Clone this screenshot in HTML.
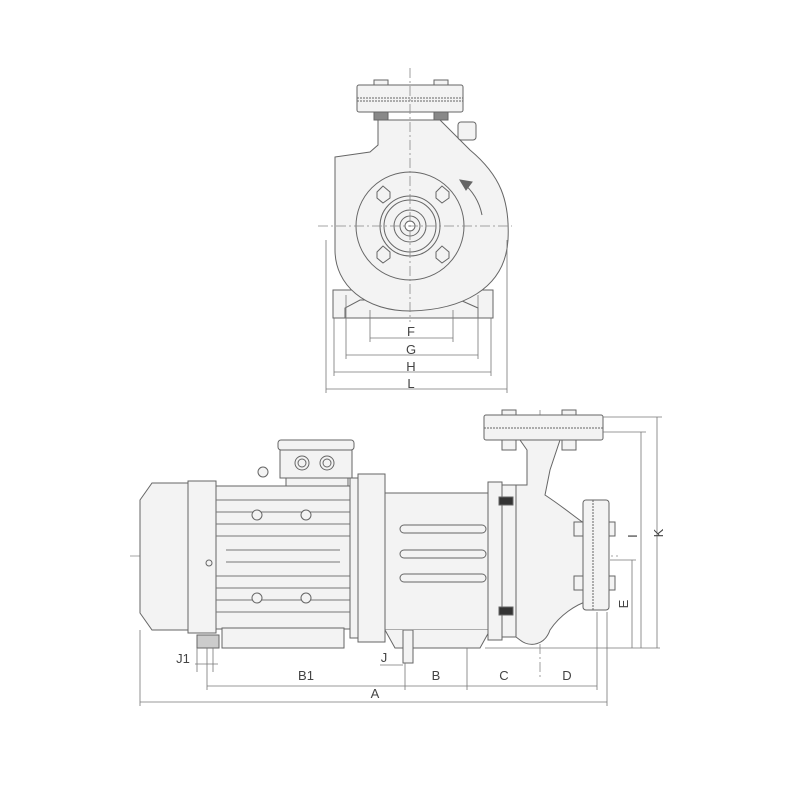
<!DOCTYPE html>
<html><head><meta charset="utf-8"><style>html,body{margin:0;padding:0;background:#fff}svg{display:block}</style></head>
<body>
<svg width="800" height="800" viewBox="0 0 800 800" xmlns="http://www.w3.org/2000/svg" font-family="Liberation Sans, sans-serif">
<g stroke="#666" stroke-width="1" fill="#f3f3f3">
<!-- TOP VIEW -->
<!-- base -->
<rect x="333" y="290" width="160" height="28"/>
<path d="M345 318 L345 308 L360 300 L460 300 L478 308 L478 318" fill="none"/>
<!-- volute -->
<path d="M335 157 L370 152 L378 145 L378 120 L440 120 L470 150 C500 175 510 200 508 240 C505 290 460 310 410 311 C365 311 335 285 335 250 Z"/>
<!-- discharge flange -->
<rect x="357" y="85" width="106" height="27" rx="2"/>
<line x1="357" y1="98" x2="463" y2="98" stroke-dasharray="2 1"/>
<line x1="357" y1="101" x2="463" y2="101" stroke-dasharray="2 1"/>
<rect x="374" y="80" width="14" height="5"/><rect x="434" y="80" width="14" height="5"/>
<rect x="374" y="112" width="14" height="8" fill="#888"/><rect x="434" y="112" width="14" height="8" fill="#888"/>
<rect x="458" y="122" width="18" height="18" rx="3"/>
<circle cx="410" cy="226" r="54"/>
<circle cx="410" cy="226" r="30"/>
<circle cx="410" cy="226" r="26"/>
<circle cx="410" cy="226" r="16"/>
<circle cx="410" cy="226" r="10"/>
<circle cx="410" cy="226" r="5" fill="#fff"/>
<polygon points="377,196 383,190 390,196 390,202 383,207 377,202" transform="translate(0,-4)"/>
<polygon points="436,196 442,190 449,196 449,202 442,207 436,202" transform="translate(0,-4)"/>
<polygon points="377,252 383,246 390,252 390,258 383,263 377,258"/>
<polygon points="436,252 442,246 449,252 449,258 442,263 436,258"/>
<path d="M462 182 Q478 195 482 215" fill="none"/>
<path d="M460 180 L472 182 L466 190 Z" fill="#666"/>
</g>
<g stroke="#888" stroke-width="0.8" stroke-dasharray="10 3 2 3" fill="none">
<line x1="410" y1="68" x2="410" y2="322"/>
<line x1="318" y1="226" x2="512" y2="226"/>
<line x1="130" y1="556" x2="618" y2="556"/>
<line x1="540" y1="410" x2="540" y2="680"/>
</g>
<!-- top dims -->
<g stroke="#777" stroke-width="0.8" fill="none">
<line x1="370" y1="310" x2="370" y2="342"/><line x1="453" y1="310" x2="453" y2="342"/>
<line x1="370" y1="338" x2="453" y2="338"/>
<line x1="346" y1="295" x2="346" y2="359"/><line x1="478" y1="295" x2="478" y2="359"/>
<line x1="346" y1="355" x2="478" y2="355"/>
<line x1="334" y1="318" x2="334" y2="376"/><line x1="491" y1="318" x2="491" y2="376"/>
<line x1="334" y1="372" x2="491" y2="372"/>
<line x1="326" y1="240" x2="326" y2="393"/><line x1="507" y1="240" x2="507" y2="393"/>
<line x1="326" y1="389" x2="507" y2="389"/>
</g>
<g font-size="13" fill="#444" text-anchor="middle">
<text x="411" y="336">F</text><text x="411" y="354">G</text><text x="411" y="371">H</text><text x="411" y="388">L</text>
</g>
<!-- SIDE VIEW -->
<g stroke="#666" stroke-width="1" fill="#f3f3f3">
<!-- terminal box -->
<rect x="278" y="440" width="76" height="10" rx="3"/>
<rect x="280" y="450" width="72" height="28"/>
<rect x="286" y="478" width="62" height="12"/>
<circle cx="302" cy="463" r="7"/><circle cx="302" cy="463" r="4"/>
<circle cx="327" cy="463" r="7"/><circle cx="327" cy="463" r="4"/>
<circle cx="263" cy="472" r="5"/>
<!-- fan cover -->
<path d="M188 483 L152 483 L140 500 L140 613 L152 630 L188 630 Z"/>
<rect x="188" y="481" width="28" height="152"/>
<circle cx="209" cy="563" r="3"/>
<!-- frame -->
<rect x="216" y="486" width="134" height="143"/>
<!-- feet -->
<rect x="222" y="628" width="122" height="20"/>
<rect x="197" y="635" width="22" height="13" fill="#ccc"/>
<!-- fins -->
<g fill="none" stroke="#777">
<line x1="216" y1="500" x2="350" y2="500"/><line x1="216" y1="512" x2="350" y2="512"/>
<line x1="216" y1="524" x2="350" y2="524"/><line x1="216" y1="536" x2="350" y2="536"/>
<line x1="226" y1="550" x2="340" y2="550"/><line x1="226" y1="562" x2="340" y2="562"/>
<line x1="216" y1="576" x2="350" y2="576"/><line x1="216" y1="588" x2="350" y2="588"/>
<line x1="216" y1="600" x2="350" y2="600"/><line x1="216" y1="612" x2="350" y2="612"/>
</g>
<circle cx="257" cy="515" r="5"/><circle cx="306" cy="515" r="5"/>
<circle cx="257" cy="598" r="5"/><circle cx="306" cy="598" r="5"/>
<!-- adapter flange -->
<rect x="350" y="478" width="8" height="160"/>
<rect x="358" y="474" width="27" height="168"/>
<!-- bracket -->
<rect x="385" y="493" width="105" height="137"/>
<path d="M385 630 L395 648 L480 648 L490 630" />
<rect x="403" y="630" width="10" height="33"/>
<rect x="400" y="525" width="86" height="8" rx="4"/>
<rect x="400" y="550" width="86" height="8" rx="4"/>
<rect x="400" y="574" width="86" height="8" rx="4"/>
<!-- casing flange -->
<rect x="488" y="482" width="14" height="158"/>
<rect x="502" y="485" width="14" height="152"/>
<rect x="499" y="497" width="14" height="8" fill="#333"/>
<rect x="499" y="607" width="14" height="8" fill="#333"/>
<!-- volute & discharge -->
<path d="M516 485 L527 485 L527 450 L520 440 L560 440 L550 470 L545 495 C575 515 583 525 590 525 L590 600 C575 605 560 615 550 630 C545 645 530 648 520 640 L516 637 Z"/>
<!-- discharge flange -->
<rect x="484" y="415" width="119" height="25" rx="2"/>
<line x1="484" y1="428" x2="603" y2="428" stroke-dasharray="2 1"/>
<rect x="502" y="410" width="14" height="5"/><rect x="562" y="410" width="14" height="5"/>
<rect x="502" y="440" width="14" height="10"/><rect x="562" y="440" width="14" height="10"/>
<!-- suction flange -->
<rect x="583" y="500" width="26" height="110" rx="3"/>
<line x1="593" y1="500" x2="593" y2="610" stroke-dasharray="2 1"/>
<rect x="574" y="522" width="9" height="14"/><rect x="574" y="576" width="9" height="14"/>
<rect x="609" y="522" width="6" height="14"/><rect x="609" y="576" width="6" height="14"/>
</g>
<!-- side dims -->
<g stroke="#777" stroke-width="0.8" fill="none">
<line x1="485" y1="648" x2="660" y2="648"/>
<line x1="603" y1="417" x2="662" y2="417"/>
<line x1="603" y1="432" x2="646" y2="432"/>
<line x1="610" y1="560" x2="636" y2="560"/>
<line x1="657" y1="417" x2="657" y2="648"/>
<line x1="641" y1="432" x2="641" y2="648"/>
<line x1="632" y1="560" x2="632" y2="648"/>
<line x1="140" y1="630" x2="140" y2="706"/>
<line x1="607" y1="612" x2="607" y2="706"/>
<line x1="140" y1="702" x2="607" y2="702"/>
<line x1="207" y1="648" x2="207" y2="690"/>
<line x1="405" y1="663" x2="405" y2="690"/>
<line x1="467" y1="648" x2="467" y2="690"/>
<line x1="597" y1="612" x2="597" y2="690"/>
<line x1="207" y1="686" x2="597" y2="686"/>
<line x1="197" y1="648" x2="197" y2="672"/><line x1="213" y1="648" x2="213" y2="672"/>
<line x1="195" y1="664" x2="218" y2="664"/>
<line x1="380" y1="665" x2="403" y2="665"/>
</g>
<g font-size="13" fill="#444" text-anchor="middle">
<text x="306" y="680">B1</text><text x="436" y="680">B</text><text x="504" y="680">C</text><text x="567" y="680">D</text>
<text x="375" y="698">A</text><text x="183" y="663">J1</text><text x="384" y="662">J</text>
<text transform="translate(637,536) rotate(-90)">I</text>
<text transform="translate(663,533) rotate(-90)">K</text>
<text transform="translate(628,604) rotate(-90)">E</text>
</g>
</svg>
</body></html>
